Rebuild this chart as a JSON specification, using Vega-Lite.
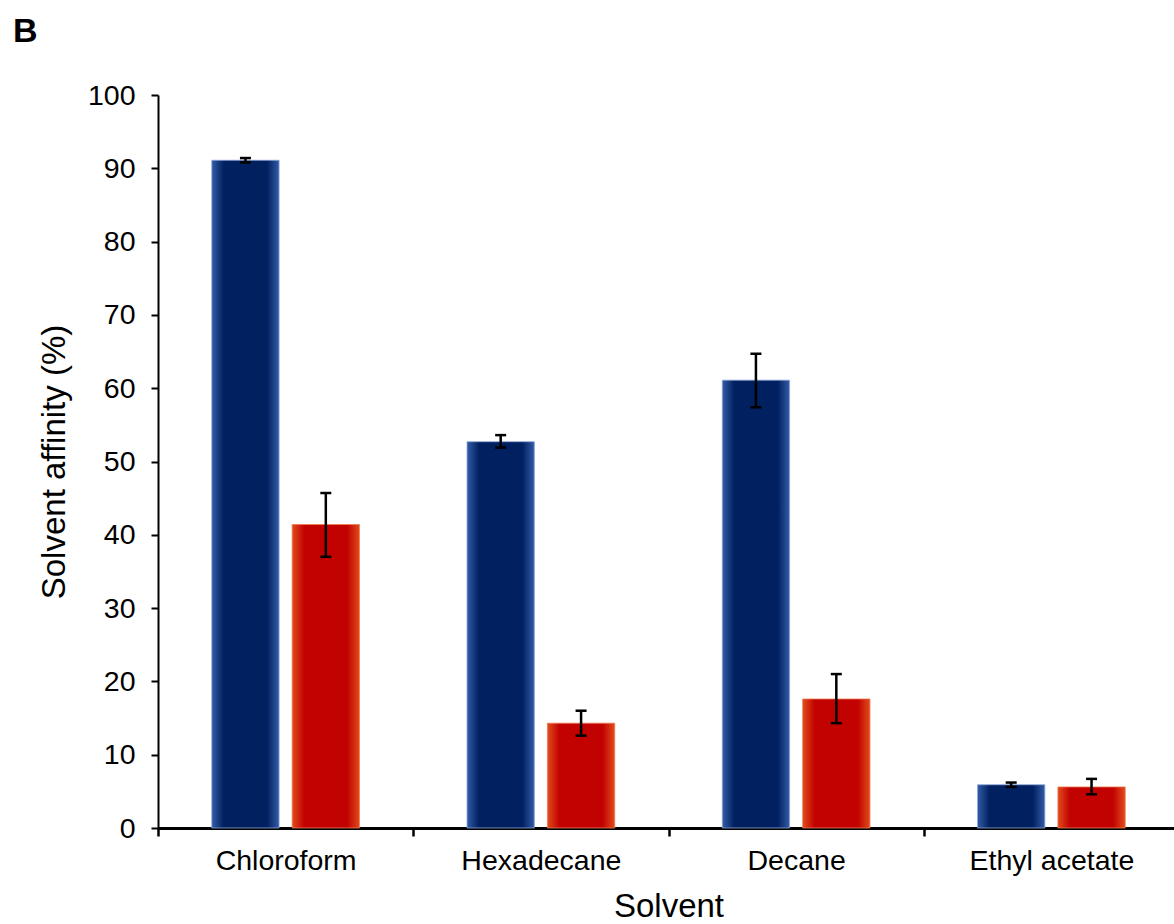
{
  "$schema": "https://vega.github.io/schema/vega-lite/v6.json",
  "width": 1016,
  "height": 733,
  "autosize": {"type": "none"},
  "padding": {"left": 158, "top": 95, "right": 0, "bottom": 96},
  "background": "white",
  "title": {
    "text": "B",
    "anchor": "start",
    "frame": "group",
    "font": "Liberation Sans",
    "fontSize": 34,
    "fontWeight": "bold",
    "color": "black",
    "dx": -145,
    "offset": 32
  },
  "config": {
    "view": {"stroke": null},
    "font": "Liberation Sans",
    "axis": {
      "labelFont": "Liberation Sans",
      "titleFont": "Liberation Sans",
      "labelColor": "black",
      "titleColor": "black",
      "domainColor": "black",
      "tickColor": "black",
      "grid": false,
      "labelFontSize": 28.5,
      "titleFontSize": 33,
      "titleFontWeight": "normal"
    }
  },
  "data": {
    "values": [
      {"solvent": "Chloroform", "sample": "A", "affinity": 91.1, "low": 90.8, "high": 91.4},
      {"solvent": "Chloroform", "sample": "B", "affinity": 41.4, "low": 37.0, "high": 45.7},
      {"solvent": "Hexadecane", "sample": "A", "affinity": 52.7, "low": 51.9, "high": 53.6},
      {"solvent": "Hexadecane", "sample": "B", "affinity": 14.3, "low": 12.6, "high": 16.0},
      {"solvent": "Decane", "sample": "A", "affinity": 61.1, "low": 57.4, "high": 64.7},
      {"solvent": "Decane", "sample": "B", "affinity": 17.6, "low": 14.3, "high": 21.0},
      {"solvent": "Ethyl acetate", "sample": "A", "affinity": 5.9, "low": 5.6, "high": 6.2},
      {"solvent": "Ethyl acetate", "sample": "B", "affinity": 5.6, "low": 4.6, "high": 6.7}
    ]
  },
  "encoding": {
    "x": {
      "field": "solvent",
      "type": "nominal",
      "sort": ["Chloroform", "Hexadecane", "Decane", "Ethyl acetate"],
      "scale": {"paddingInner": 0, "paddingOuter": 0, "range": [0, 1021]},
      "title": "Solvent",
      "axis": {
        "labelAngle": 0,
        "tickBand": "extent",
        "tickSize": 8,
        "tickWidth": 2.5,
        "domainWidth": 3,
        "labelPadding": 10,
        "titlePadding": 16
      }
    },
    "xOffset": {
      "field": "sample",
      "type": "nominal",
      "scale": {"paddingInner": 0.1625, "paddingOuter": 0.669}
    }
  },
  "layer": [
    {
      "transform": [{"filter": "datum.sample === 'A'"}],
      "mark": {
        "type": "bar",
        "fill": {
          "gradient": "linear",
          "x1": 0, "x2": 1, "y1": 0, "y2": 0,
          "stops": [
            {"offset": 0, "color": "#335ca8"},
            {"offset": 0.18, "color": "#00205f"},
            {"offset": 0.82, "color": "#00205f"},
            {"offset": 1, "color": "#335ca8"}
          ]
        },
        "stroke": "#8ea6d8",
        "strokeWidth": 0.8
      },
      "encoding": {
        "y": {
          "field": "affinity",
          "type": "quantitative",
          "scale": {"domain": [0, 100], "nice": false},
          "title": "Solvent affinity (%)",
          "axis": {
            "values": [0, 10, 20, 30, 40, 50, 60, 70, 80, 90, 100],
            "tickSize": 7,
            "tickWidth": 2,
            "domainWidth": 2,
            "labelPadding": 16,
            "titlePadding": 16
          }
        }
      }
    },
    {
      "transform": [{"filter": "datum.sample === 'B'"}],
      "mark": {
        "type": "bar",
        "fill": {
          "gradient": "linear",
          "x1": 0, "x2": 1, "y1": 0, "y2": 0,
          "stops": [
            {"offset": 0, "color": "#e04c1c"},
            {"offset": 0.18, "color": "#c20200"},
            {"offset": 0.82, "color": "#c20200"},
            {"offset": 1, "color": "#e04c1c"}
          ]
        },
        "stroke": "#ec7a50",
        "strokeWidth": 0.8
      },
      "encoding": {
        "y": {"field": "affinity", "type": "quantitative", "title": "Solvent affinity (%)"}
      }
    },
    {
      "mark": {"type": "rule", "color": "black", "strokeWidth": 2.5},
      "encoding": {
        "y": {"field": "low", "type": "quantitative", "title": "Solvent affinity (%)"},
        "y2": {"field": "high"}
      }
    },
    {
      "mark": {"type": "tick", "color": "black", "thickness": 2.5, "size": 11, "opacity": 1},
      "encoding": {
        "y": {"field": "low", "type": "quantitative", "title": "Solvent affinity (%)"}
      }
    },
    {
      "mark": {"type": "tick", "color": "black", "thickness": 2.5, "size": 11, "opacity": 1},
      "encoding": {
        "y": {"field": "high", "type": "quantitative", "title": "Solvent affinity (%)"}
      }
    }
  ]
}
